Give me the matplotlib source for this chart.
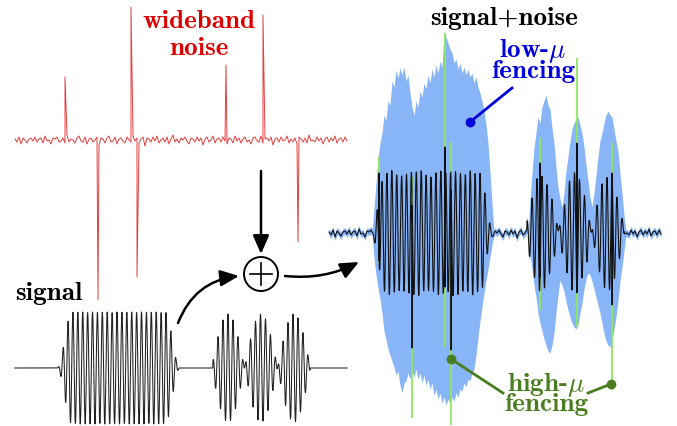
import os
import numpy as np
import matplotlib
matplotlib.use("Agg")
import matplotlib.pyplot as plt
from matplotlib import font_manager
from matplotlib.patches import FancyArrowPatch, Circle

plt.rcParams["mathtext.fontset"] = "cm"
CMB = os.path.join(matplotlib.get_data_path(), "fonts", "ttf", "cmb10.ttf")


def bold(size=19.5):
    return font_manager.FontProperties(fname=CMB, size=size)


# ---- data (time / amplitude units = pixels of the sketch) ----
noise_step = 2
noise_floor = [1, -2, 3, -4, 2, 0, -3, 1, 2, -1,
               3, -2, 1, 2, -3, 4, -1, 0, -4, 2,
               1, 3, -2, -1, 2, -3, 5, -2, 1, 0,
               -3, 2, 4, -1, -2, 3, -4, 1, 2, -2,
               0, 3, -5, 2, 1, -3, 2, 4, -2, -1,
               3, -4, 1, 2, -1, -3, 3, 0, -2, 4,
               -1, 2, -3, 1, 3, -6, 2, 1, -2, 3,
               -1, 4, -3, 0, 2, -2, 3, -4, 1, 5,
               -2, 1, -3, 2, 0, 3, -1, -4, 2, 1,
               -2, 3, -1, 2, -5, 1, 3, -2, 0, 4,
               -3, 1, 2, -2, 3, -1, -4, 2, 1, -3,
               4, -1, 2, -3, 1, 3, -2, 0, -4, 2,
               3, -1, -2, 4, -3, 1, 2, -1, 3, -5,
               1, 2, -2, 3, -1, 0, 4, -3, 1, -2,
               2, -4, 3, 1, -2, 2, -3, 5, -1, 0,
               -2, 3, -1, 2, -4, 1, 3, -2, 2, -1,
               4, -3, 1, 2, -2, 3, -1]
spike_t = [50, 83, 116, 122, 211, 248, 283]
spike_amp = [63, -160, 133, -137, 75, 125, -102]

# signal bursts
b1_start, b1_end, b1_amp, b1_period, b1_taper = 42, 165, 56, 4.9, 15
b2_start, b2_end, b2_amp, b2_period, b2_beat, b2_center = 198, 295, 27, 5.0, 33, 213
mix_gain = 1.07

# spikes as seen in the mixture (raw = green, fenced = black)
green_top = [76, 56, 200, 91, 95, 175, 90]
green_bot = [-30, -185, -114, -192, -77, -94, -157]
black_top = [60, 30, 86, 50, 70, 90, 60]
black_bot = [-20, -115, -54, -117, -44, -30, -72]

# low-mu fence envelope (2 px samples)
env1_t0 = 43
env1_top = [0, 25, 50, 75, 90, 100, 118, 112, 132, 128, 152, 146, 163, 155, 165, 158,
            166, 152, 158, 140, 126, 118, 132, 126, 142, 136, 150, 144, 158, 150, 164,
            156, 168, 160, 172, 166, 200, 196, 190, 184, 180, 170, 174, 164, 170, 160,
            166, 158, 164, 156, 160, 150, 156, 146, 140, 132, 122, 108, 90, 60, 30, 0]
env1_bot = [0, 25, 42, 55, 66, 80, 98, 106, 116, 122, 128, 134, 142, 138, 152, 160,
            150, 148, 140, 146, 138, 144, 136, 146, 140, 150, 142, 152, 146, 156, 150,
            162, 156, 166, 160, 170, 164, 172, 166, 170, 164, 168, 160, 164, 156, 158,
            150, 154, 146, 148, 140, 136, 122, 104, 88, 74, 60, 48, 36, 24, 12, 0]
env2_t0 = 199
env2_top = [0, 33, 60, 85, 100, 116, 110, 126, 132, 138, 128, 124, 105, 90, 66, 46,
            34, 26, 40, 62, 76, 92, 104, 110, 114, 116, 108, 100, 86, 68, 52, 36, 26,
            40, 58, 76, 92, 100, 110, 118, 122, 118, 116, 104, 92, 82, 60, 40, 18, 0]
env2_bot = [0, 20, 36, 52, 64, 80, 90, 98, 106, 112, 118, 120, 112, 100, 80, 62, 47,
            52, 58, 68, 77, 84, 90, 94, 96, 92, 80, 70, 56, 46, 40, 42, 48, 56, 64, 72,
            80, 90, 100, 108, 112, 114, 108, 96, 84, 68, 48, 34, 18, 0]

RED = "#e02a2a"
BLUE_FILL = "#88b4f8"
LIME = "#8ee85a"
DARK_GREEN = "#4a7d1f"
BLUE_TXT = "#0000dd"


def make_signal(t):
    s = np.zeros_like(t)
    # flat-topped burst with cosine tapers
    ramp = np.clip(np.minimum(t - b1_start, b1_end - t) / b1_taper, 0, 1)
    win = 0.5 - 0.5 * np.cos(np.pi * ramp)
    s += b1_amp * win * np.sin(2 * np.pi * (t - b1_start) / b1_period)
    # two-tone (beating) burst
    f0 = 1.0 / b2_period
    df = 0.5 / b2_beat
    inside = (t >= b2_start) & (t <= b2_end)
    two = (np.cos(2 * np.pi * (f0 + df) * (t - b2_center))
           + np.cos(2 * np.pi * (f0 - df) * (t - b2_center)))
    s += b2_amp * two * inside
    return s


def main():
    fig = plt.figure(figsize=(6.77, 4.26), dpi=100)
    W, H = 677, 426

    def panel(x0, y0):
        ax = fig.add_axes([0, 0, 1, 1])
        ax.set_xlim(-x0, W - x0)
        ax.set_ylim(-(H - y0), y0)
        ax.axis("off")
        return ax

    t_n = np.arange(len(noise_floor)) * noise_step
    t_f = np.arange(0, t_n[-1] + 0.01, 0.25)
    sig = make_signal(t_f)

    # wideband noise
    axn = panel(15, 140)
    xs = np.concatenate([t_n, spike_t])
    ys = np.concatenate([noise_floor, spike_amp])
    o = np.argsort(xs, kind="mergesort")
    axn.plot(xs[o], ys[o], color=RED, lw=0.7, alpha=0.9)

    # clean signal
    axs = panel(15, 368)
    axs.plot(t_f, sig, color="#202020", lw=0.75)

    # signal + noise
    axc = panel(329, 233)
    mix = mix_gain * sig + np.interp(t_f, t_n, noise_floor)
    e_top = (np.interp(t_f, env1_t0 + 2 * np.arange(len(env1_top)), env1_top, left=0, right=0)
             + np.interp(t_f, env2_t0 + 2 * np.arange(len(env2_top)), env2_top, left=0, right=0))
    e_bot = (np.interp(t_f, env1_t0 + 2 * np.arange(len(env1_bot)), env1_bot, left=0, right=0)
             + np.interp(t_f, env2_t0 + 2 * np.arange(len(env2_bot)), env2_bot, left=0, right=0))
    axc.fill_between(t_f, np.maximum(mix + 3.5, e_top), np.minimum(mix - 3.5, -e_bot),
                     color=BLUE_FILL, lw=0)
    axc.vlines(spike_t, green_bot, green_top, color=LIME, lw=1.3)
    st = np.array(spike_t, dtype=float)
    xs = np.concatenate([t_f, st, st + 0.1])
    ys = np.concatenate([mix, black_top, black_bot])
    o = np.argsort(xs, kind="mergesort")
    axc.plot(xs[o], ys[o], color="#111111", lw=0.8)

    # overlay: arrows, sum node, labels (pixel coordinates)
    ax = fig.add_axes([0, 0, 1, 1])
    ax.set_xlim(0, W)
    ax.set_ylim(H, 0)
    ax.axis("off")

    astyle = "-|>,head_length=0.8,head_width=0.35"
    ax.add_patch(FancyArrowPatch((261, 171), (261, 254), arrowstyle=astyle,
                                 mutation_scale=14, lw=1.8, color="k",
                                 shrinkA=0, shrinkB=0))
    ax.add_patch(FancyArrowPatch((178, 323), (239, 276), arrowstyle=astyle,
                                 connectionstyle="arc3,rad=-0.3",
                                 mutation_scale=14, lw=1.8, color="k",
                                 shrinkA=0, shrinkB=0))
    ax.add_patch(FancyArrowPatch((285, 276), (359, 262), arrowstyle=astyle,
                                 connectionstyle="arc3,rad=0.15",
                                 mutation_scale=14, lw=1.8, color="k",
                                 shrinkA=0, shrinkB=0))
    ax.add_patch(Circle((261, 274), 17, fill=False, lw=1.4, color="k"))
    ax.plot([250, 272], [274, 274], color="k", lw=1.2)
    ax.plot([261, 261], [263, 285], color="k", lw=1.2)

    ax.text(199, 28, "wideband", color="#dd0000", fontproperties=bold(), ha="center", va="baseline")
    ax.text(199, 55, "noise", color="#dd0000", fontproperties=bold(), ha="center", va="baseline")
    ax.text(15, 300, "signal", color="k", fontproperties=bold(), ha="left", va="baseline")
    ax.text(504, 25, "signal+noise", color="k", fontproperties=bold(), ha="center", va="baseline")
    # two-line labels: anchored at the baseline of the second line
    ax.text(533, 78, "low-$\\mu$\nfencing", color=BLUE_TXT, fontproperties=bold(),
            ha="center", va="baseline", multialignment="center", linespacing=0.7)
    ax.text(546, 411, "high-$\\mu$\nfencing", color=DARK_GREEN, fontproperties=bold(),
            ha="center", va="baseline", multialignment="center", linespacing=0.68)

    ax.plot([470, 512], [122, 88], color=BLUE_TXT, lw=2)
    ax.plot([470], [122], "o", color=BLUE_TXT, ms=6)
    ax.plot([451, 503], [359, 393], color=DARK_GREEN, lw=2)
    ax.plot([451], [359], "o", color=DARK_GREEN, ms=6)
    ax.plot([588, 611], [393, 384], color=DARK_GREEN, lw=2)
    ax.plot([611], [384], "o", color=DARK_GREEN, ms=6)

    fig.savefig("out.png", dpi=100)
    plt.close(fig)


if __name__ == "__main__":
    main()
